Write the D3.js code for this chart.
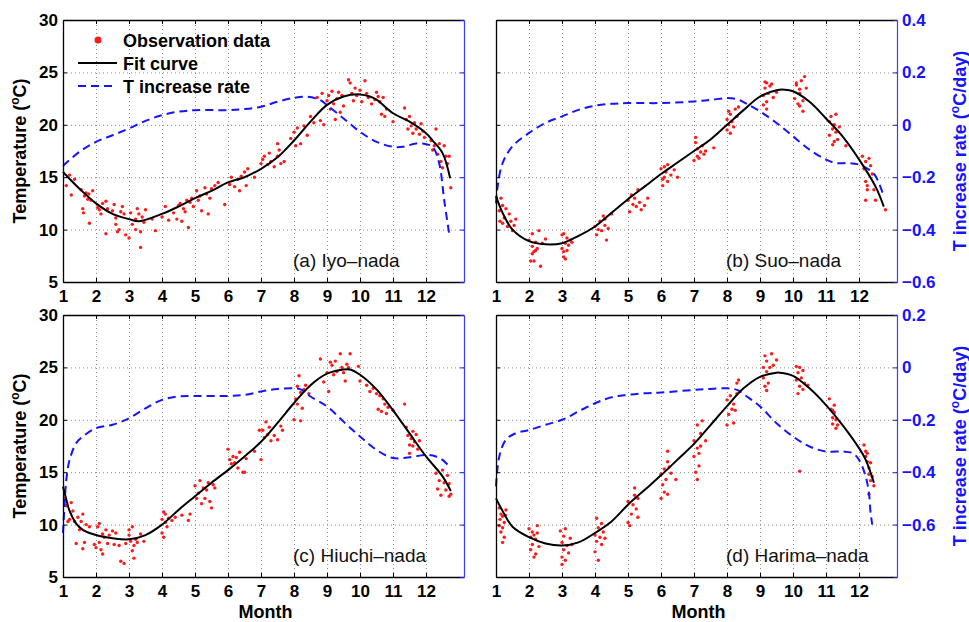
<!DOCTYPE html>
<html>
<head>
<meta charset="utf-8">
<script src="https://cdn.jsdelivr.net/npm/d3@7"></script>
<style>
  body { margin: 0; background: #fff; }
  svg text { font-family: "Liberation Sans", Arial, Helvetica, sans-serif; }
</style>
</head>
<body>
<div id="container"></div>
<script>
// month ticks and axis ticks
const months = [1, 2, 3, 4, 5, 6, 7, 8, 9, 10, 11, 12];
const tempTicks = [5, 10, 15, 20, 25, 30];
const rateTicksAB = [-0.6, -0.4, -0.2, 0, 0.2, 0.4];
const rateTicksCD = [-0.8, -0.6, -0.4, -0.2, 0, 0.2];

// (a) Iyo-nada
const fitA = [[1,15.5],[1.5,13.9],[2,12.5],[2.5,11.5],[3,11.0],[3.3,10.8],[4,11.5],[4.5,12.2],[5,13.0],[5.5,13.7],[6,14.5],[6.5,15.0],[7,15.8],[7.5,16.9],[8,18.5],[8.5,20.3],[9,21.9],[9.5,22.7],[10,22.9],[10.3,22.7],[10.5,22.4],[11,21.1],[11.5,20.3],[12,19.2],[12.2,18.5],[12.5,17.3],[12.73,14.9]];
const rateA = [[1,-0.157],[1.5,-0.103],[2,-0.065],[2.5,-0.04],[3,-0.014],[3.5,0.015],[4,0.037],[4.5,0.05],[5,0.056],[6,0.056],[6.5,0.06],[7,0.069],[7.5,0.088],[8,0.103],[8.4,0.107],[8.8,0.094],[9,0.075],[9.5,0.024],[10,-0.027],[10.5,-0.065],[11,-0.084],[11.3,-0.084],[11.7,-0.071],[12,-0.074],[12.2,-0.084],[12.4,-0.148],[12.55,-0.288],[12.7,-0.415]];
const obsA = [[1.1,14.2],[1.2,15.2],[1.25,13.3],[1.35,14.8],[1.55,13.8],[1.6,12.0],[1.62,11.6],[1.65,13.2],[1.7,13.5],[1.75,12.9],[1.78,13.4],[1.8,10.6],[1.85,12.8],[1.9,13.7],
  [2.05,12.1],[2.1,11.9],[2.15,11.5],[2.2,12.5],[2.3,9.6],[2.35,12.0],[2.3,12.7],[2.5,11.8],[2.55,12.4],[2.6,11.1],[2.65,9.8],[2.7,10.0],[2.75,11.7],[2.8,12.2],[2.85,11.5],[2.9,9.5],[2.6,10.5],
  [3.0,9.2],[3.05,11.6],[3.1,10.5],[3.2,10.0],[3.25,12.0],[3.3,11.5],[3.35,8.3],[3.35,9.8],[3.4,11.2],[3.45,10.7],[3.5,11.9],[3.2,11.0],[3.7,11.0],[3.8,9.9],[4.0,11.2],[4.2,10.9],[4.1,12.2],
  [4.35,11.6],[4.45,11.0],[4.5,12.3],[4.55,12.5],[4.6,10.8],[4.65,12.0],[4.7,11.7],[4.75,12.8],[4.8,10.2],[4.85,12.6],[4.9,13.0],[4.95,12.2],
  [5.05,13.7],[5.1,12.8],[5.15,13.2],[5.2,11.8],[5.3,14.0],[5.35,13.4],[5.4,11.5],[5.45,13.0],[5.5,13.9],[5.6,14.2],[5.7,14.5],
  [5.9,12.4],[6.05,14.3],[6.1,15.0],[6.2,14.1],[6.3,14.8],[6.35,13.7],[6.4,15.1],[6.5,15.5],[6.55,14.2],[6.6,15.8],[6.8,15.0],
  [7.0,16.3],[7.05,16.7],[7.1,17.0],[7.2,16.2],[7.25,17.3],[7.3,16.5],[7.4,16.0],[7.5,18.2],[7.5,17.0],[7.55,17.6],[7.6,16.3],[7.7,16.5],
  [7.9,18.7],[8.0,19.3],[8.05,18.0],[8.1,19.7],[8.2,18.2],[8.3,19.9],[8.4,19.0],[8.5,20.8],[8.6,20.2],
  [8.7,22.6],[8.8,20.4],[8.85,23.0],[8.9,20.0],[9.0,22.3],[9.05,22.8],[9.1,21.5],[9.15,23.2],[9.2,22.0],[9.25,20.5],[9.3,22.5],[9.35,23.1],[9.4,21.2],[9.45,22.8],[9.5,21.8],
  [9.65,24.3],[9.7,24.0],[9.75,23.0],[9.8,22.3],[9.85,23.5],[9.9,22.8],[10.0,23.3],[10.05,22.2],[10.15,24.2],[10.2,23.0],[10.25,22.6],
  [10.35,22.0],[10.45,22.4],[10.5,23.1],[10.55,22.7],[10.6,22.2],[10.65,21.0],[10.7,22.6],[10.75,20.8],[10.8,21.5],[11.0,20.3],
  [11.35,21.6],[11.4,20.5],[11.45,19.6],[11.5,20.8],[11.55,19.9],[11.6,19.2],[11.65,20.2],[11.7,19.6],[11.8,19.1],[11.85,20.1],[11.9,19.4],[11.95,18.8],
  [12.15,18.5],[12.2,17.6],[12.25,18.0],[12.3,19.6],[12.35,17.2],[12.4,18.2],[12.45,16.5],[12.5,15.9],[12.55,18.0],[12.6,17.0],[12.65,16.3],[12.7,17.0],[12.75,14.0]];

// (b) Suo-nada
const fitB = [[1,13.2],[1.2,11.6],[1.5,10.0],[2,8.9],[2.5,8.6],[3,8.7],[3.5,9.4],[4,10.3],[4.5,11.6],[5,12.9],[5.5,14.1],[6,15.3],[6.5,16.4],[7,17.5],[7.5,18.6],[8,20.0],[8.5,21.4],[9,22.7],[9.5,23.3],[9.75,23.35],[10,23.2],[10.5,22.2],[11,20.6],[11.5,18.9],[12,16.7],[12.5,14.1],[12.75,12.2]];
const rateB = [[1,-0.30],[1.05,-0.235],[1.2,-0.146],[1.5,-0.082],[2,-0.031],[2.5,0.007],[3,0.032],[3.5,0.057],[4,0.073],[4.5,0.080],[5,0.083],[6,0.083],[7,0.089],[7.5,0.095],[8,0.102],[8.3,0.098],[8.6,0.08],[9,0.051],[9.5,0.007],[10,-0.044],[10.5,-0.095],[11,-0.133],[11.3,-0.146],[11.7,-0.146],[12,-0.152],[12.3,-0.171],[12.5,-0.196],[12.75,-0.273]];
const obsB = [[1.1,11.8],[1.15,13.0],[1.2,12.3],[1.2,10.6],[1.25,11.1],[1.3,12.0],[1.35,10.3],[1.4,11.5],[1.45,10.8],[1.5,9.9],[1.55,10.4],[1.6,11.0],[1.12,10.8],
  [2.0,9.0],[2.05,7.0],[2.1,8.4],[2.1,9.6],[2.15,7.9],[2.2,8.8],[2.25,8.2],[2.3,9.9],[2.15,7.0],[2.35,6.5],[2.4,8.7],[2.5,9.1],[2.2,8.0],[2.1,7.7],
  [3.0,8.2],[3.0,9.5],[3.05,7.9],[3.05,7.4],[3.1,8.7],[3.15,9.2],[3.1,7.2],[3.15,8.0],[3.2,8.5],[3.25,9.0],[3.3,8.8],[3.05,9.6],
  [4.0,10.3],[4.05,9.5],[4.1,10.0],[4.15,10.8],[4.2,9.9],[4.25,11.3],[4.3,10.4],[4.35,9.0],[4.4,10.1],[4.5,11.5],[4.3,11.0],
  [5.0,12.8],[5.05,11.7],[5.1,13.3],[5.15,12.4],[5.2,13.0],[5.25,12.2],[5.3,13.8],[5.35,12.6],[5.4,11.9],[5.5,12.3],[5.6,13.0],
  [6.0,15.8],[6.05,14.2],[6.1,15.0],[6.1,16.0],[6.15,15.5],[6.2,14.6],[6.2,16.2],[6.3,15.2],[6.05,14.8],[6.4,15.7],[6.5,15.0],
  [7.0,16.6],[7.05,18.3],[7.1,17.0],[7.1,17.7],[7.15,16.8],[7.2,17.4],[7.25,18.0],[7.3,17.2],[7.35,17.5],[7.6,17.8],[7.05,18.8],
  [8.0,19.5],[8.0,20.5],[8.05,20.0],[8.1,19.2],[8.1,21.0],[8.15,20.3],[8.2,19.8],[8.25,21.5],[8.3,20.8],[8.35,21.7],[8.05,21.3],
  [9.1,21.9],[9.1,22.8],[9.15,23.5],[9.2,22.2],[9.2,24.0],[9.25,23.0],[9.3,23.7],[9.35,23.9],[9.2,21.5],[9.4,22.6],[9.5,23.1],[9.15,24.1],
  [10.05,22.5],[10.1,23.8],[10.15,22.0],[10.2,23.4],[10.2,21.8],[10.25,24.2],[10.3,22.3],[10.35,24.6],[10.3,21.3],[10.1,24.0],[10.4,23.5],[10.2,23.0],
  [11.1,20.3],[11.1,19.0],[11.15,20.8],[11.2,19.6],[11.25,18.4],[11.25,20.0],[11.3,21.0],[11.35,18.6],[11.2,18.1],[11.4,19.8],[11.6,18.0],[11.3,19.3],
  [12.1,17.0],[12.15,15.8],[12.2,16.5],[12.25,14.2],[12.3,16.8],[12.2,12.8],[12.25,13.8],[12.35,16.1],[12.4,15.3],[12.45,13.8],[12.5,12.8],[12.8,11.9],[12.2,14.6]];

// (c) Hiuchi-nada
const fitC = [[1,13.6],[1.1,12.4],[1.2,11.3],[1.4,10.1],[1.6,9.5],[2,9.0],[2.5,8.7],[3,8.6],[3.5,9.0],[4,10.0],[4.5,11.4],[5,12.7],[5.5,14.0],[6,15.2],[6.5,16.5],[7,17.9],[7.5,19.7],[8,21.6],[8.5,23.3],[9,24.4],[9.5,24.8],[9.7,24.8],[10,24.3],[10.5,22.9],[11,20.9],[11.5,18.7],[12,16.5],[12.5,14.6],[12.75,13.2]];
const rateC = [[1,-0.632],[1.05,-0.518],[1.1,-0.429],[1.2,-0.353],[1.4,-0.289],[1.6,-0.264],[2,-0.232],[2.5,-0.219],[3,-0.194],[3.5,-0.156],[4,-0.124],[4.5,-0.111],[5,-0.109],[6,-0.109],[6.5,-0.105],[7,-0.092],[7.5,-0.082],[8,-0.080],[8.2,-0.084],[8.5,-0.111],[9,-0.149],[9.5,-0.207],[10,-0.264],[10.5,-0.315],[11,-0.346],[11.5,-0.343],[12,-0.334],[12.3,-0.34],[12.5,-0.353],[12.75,-0.384]];
const obsC = [[1.05,12.5],[1.1,11.8],[1.15,10.3],[1.2,10.5],[1.25,12.1],[1.3,11.3],[1.35,10.3],[1.4,8.2],[1.45,10.7],[1.5,9.5],[1.55,10.3],[1.6,7.7],[1.6,11.0],[1.65,8.3],[1.7,10.0],[1.8,9.8],
  [1.95,8.1],[2.0,7.8],[2.05,9.8],[2.1,8.3],[2.1,10.1],[2.15,7.6],[2.2,9.1],[2.2,7.2],[2.25,8.8],[2.3,9.5],[2.35,8.2],[2.5,9.4],[2.55,8.1],[2.6,9.2],[2.4,9.0],
  [2.7,8.0],[2.75,6.5],[2.85,6.3],[2.9,8.2],[3.0,9.5],[3.0,9.0],[3.05,8.4],[3.1,7.5],[3.1,9.8],[3.15,8.0],[3.15,6.8],[3.2,8.6],[3.25,8.3],[3.35,9.1],[3.45,8.4],
  [4.0,9.2],[4.0,10.5],[4.05,8.8],[4.1,10.2],[4.1,11.0],[4.15,9.8],[4.2,10.6],[4.05,11.2],[4.3,10.4],[4.4,10.7],
  [4.6,10.9],[4.8,10.4],[4.85,11.0],[5.0,13.7],[5.05,12.5],[5.1,13.0],[5.15,14.2],[5.2,12.0],[5.25,13.5],[5.3,12.5],[5.35,13.3],[5.4,14.0],[5.45,12.2],[5.5,11.6],[5.55,13.8],[5.6,13.5],
  [6.0,17.2],[6.05,16.2],[6.1,15.8],[6.15,16.5],[6.2,15.9],[6.25,16.4],[6.3,15.4],[6.35,16.9],[6.45,15.0],[6.5,15.0],[6.55,16.3],[6.8,17.0],
  [7.0,16.2],[7.05,19.0],[7.1,18.3],[7.15,19.8],[7.2,18.6],[7.25,19.3],[7.3,18.0],[7.4,18.5],[7.5,18.1],[7.6,19.4],[7.65,19.0],[6.95,19.0],
  [8.0,20.0],[8.05,22.0],[8.1,23.2],[8.1,21.5],[8.15,24.2],[8.2,22.6],[8.2,19.9],[8.25,21.1],[8.3,22.9],[8.35,23.3],[8.45,22.5],
  [8.8,25.8],[8.9,23.6],[9.0,24.5],[9.05,22.7],[9.1,25.5],[9.15,25.2],[9.2,24.3],[9.25,25.6],[9.3,24.6],[9.4,26.3],[9.45,25.0],[9.5,24.5],[9.55,23.7],[9.6,25.3],[9.7,26.3],[9.65,25.0],
  [9.95,25.1],[10.0,23.7],[10.2,23.3],[10.3,22.7],[10.4,23.0],[10.5,22.5],[10.55,21.0],[10.6,22.3],[10.65,20.8],[10.7,22.0],[10.75,21.5],[10.8,20.6],[10.85,21.2],
  [11.0,20.9],[11.35,21.5],[11.4,19.3],[11.45,18.5],[11.5,17.6],[11.55,18.2],[11.6,18.9],[11.6,17.5],[11.65,17.9],[11.7,18.6],[11.75,17.2],[11.8,18.0],[11.5,16.8],
  [12.3,14.9],[12.35,13.4],[12.4,14.2],[12.45,12.8],[12.5,15.2],[12.55,14.0],[12.6,13.3],[12.65,14.7],[12.7,12.7],[12.75,12.9],[12.7,13.9]];

// (d) Harima-nada
const fitD = [[1,12.5],[1.2,11.3],[1.5,9.8],[2,8.8],[2.5,8.2],[3,8.0],[3.5,8.3],[4,9.2],[4.5,10.3],[5,11.9],[5.5,13.3],[6,14.7],[6.5,16.2],[7,17.7],[7.5,19.5],[8,21.3],[8.5,23.0],[9,24.1],[9.5,24.5],[9.6,24.5],[10,24.2],[10.5,23.0],[11,21.4],[11.5,19.5],[12,17.3],[12.2,16.2],[12.45,14.0]];
const rateD = [[1,-0.454],[1.1,-0.34],[1.3,-0.276],[1.6,-0.251],[2,-0.239],[2.5,-0.219],[3,-0.2],[3.5,-0.168],[4,-0.137],[4.5,-0.114],[5,-0.105],[5.5,-0.099],[6,-0.096],[7,-0.086],[7.5,-0.082],[8,-0.08],[8.3,-0.086],[8.6,-0.111],[9,-0.149],[9.5,-0.213],[10,-0.264],[10.5,-0.302],[11,-0.321],[11.5,-0.321],[11.8,-0.327],[12,-0.353],[12.2,-0.416],[12.3,-0.48],[12.35,-0.556],[12.4,-0.6]];
const obsD = [[1.1,11.6],[1.12,10.5],[1.15,11.0],[1.15,9.3],[1.2,10.8],[1.2,9.7],[1.25,10.2],[1.25,8.8],[1.3,11.4],[1.28,10.9],[1.2,8.3],[1.1,9.9],
  [2.0,9.6],[2.05,8.8],[2.05,7.6],[2.1,9.3],[2.1,8.1],[2.15,9.0],[2.2,7.2],[2.2,8.6],[2.25,9.9],[2.3,7.9],[2.15,6.9],[2.25,9.2],
  [2.95,9.4],[3.0,8.3],[3.0,6.9],[3.05,7.6],[3.05,8.9],[3.1,6.6],[3.1,9.6],[3.15,8.0],[3.2,7.3],[3.25,8.7],[3.3,8.1],[3.0,6.2],
  [4.0,9.0],[4.0,7.4],[4.05,8.4],[4.1,9.7],[4.1,6.6],[4.15,8.8],[4.2,10.1],[4.25,9.3],[4.3,8.7],[4.05,10.6],[4.2,8.1],
  [5.0,12.2],[5.0,10.2],[5.05,9.9],[5.1,11.0],[5.15,11.9],[5.2,12.8],[5.25,11.5],[5.3,12.5],[5.3,10.7],[5.2,13.5],
  [6.0,14.8],[6.0,12.5],[6.05,13.8],[6.1,15.3],[6.1,13.1],[6.15,14.3],[6.2,16.0],[6.2,12.9],[6.25,15.5],[6.3,14.9],[6.2,17.0],[6.45,14.3],
  [7.0,18.0],[7.0,16.5],[7.05,15.0],[7.1,17.3],[7.1,19.5],[7.15,16.8],[7.15,15.6],[7.2,18.7],[7.2,17.5],[7.25,19.9],[7.35,18.0],[7.1,14.3],
  [8.0,21.9],[8.0,19.5],[8.05,20.5],[8.1,22.3],[8.15,21.0],[8.2,19.7],[8.25,20.9],[8.3,22.5],[8.3,23.5],[8.35,23.8],[8.2,21.5],
  [9.1,24.0],[9.1,25.0],[9.15,23.2],[9.15,26.1],[9.2,24.6],[9.2,25.6],[9.25,23.5],[9.3,25.0],[9.35,26.3],[9.4,25.2],[9.2,22.8],[9.5,25.7],
  [10.1,25.1],[10.1,23.8],[10.15,24.5],[10.2,23.2],[10.2,25.0],[10.25,24.0],[10.3,22.9],[10.3,24.7],[10.35,23.5],[10.45,23.3],[10.2,15.1],[10.15,22.5],
  [11.1,22.0],[11.15,21.0],[11.2,20.2],[11.2,19.6],[11.25,20.7],[11.3,19.2],[11.3,20.0],[11.25,21.4],[11.35,19.5],[11.2,20.9],
  [12.15,17.6],[12.2,17.0],[12.2,16.5],[12.25,16.0],[12.3,15.4],[12.3,14.8],[12.35,15.9],[12.35,14.2],[12.4,14.6],[12.45,13.7],[12.3,12.9],[12.25,16.8]];

const W = 969, H = 622;
const BLUE = "#1414ff";

const svg = d3.select("#container").append("svg")
  .attr("width", W).attr("height", H)
  .style("background", "#fff");

const panels = [
  {label:"(a) Iyo\u2013nada",     fit:fitA, rate:rateA, obs:obsA, x0:63,  y0:20,  rDom:[-0.6,0.4], rTicks:rateTicksAB, leftLab:true,  rightLab:false, month:false, legend:true},
  {label:"(b) Suo\u2013nada",     fit:fitB, rate:rateB, obs:obsB, x0:496, y0:20,  rDom:[-0.6,0.4], rTicks:rateTicksAB, leftLab:false, rightLab:true,  month:false, legend:false},
  {label:"(c) Hiuchi\u2013nada",  fit:fitC, rate:rateC, obs:obsC, x0:63,  y0:315, rDom:[-0.8,0.2], rTicks:rateTicksCD, leftLab:true,  rightLab:false, month:true,  legend:false},
  {label:"(d) Harima\u2013nada",  fit:fitD, rate:rateD, obs:obsD, x0:496, y0:315, rDom:[-0.8,0.2], rTicks:rateTicksCD, leftLab:false, rightLab:true,  month:true,  legend:false}
];
const pw = 401, ph = 262;

const rateFmt = d => d === 0 ? "0" : d3.format(".1f")(d);

panels.forEach(p => {
  const g = svg.append("g").attr("transform", `translate(${p.x0},${p.y0})`);

  const x = d3.scaleLinear().domain([1, 13.15]).range([0, pw]);
  const y = d3.scaleLinear().domain([5, 30]).range([ph, 0]);
  const yr = d3.scaleLinear().domain(p.rDom).range([ph, 0]);

  // dotted grid
  g.append("g").attr("transform", `translate(0,${ph})`)
    .call(d3.axisBottom(x).tickValues(months).tickSize(-ph).tickFormat(""))
    .call(s => s.select(".domain").remove())
    .selectAll("line").attr("stroke", "#8c8c8c").attr("stroke-dasharray", "1,3");
  g.append("g")
    .call(d3.axisLeft(y).tickValues(tempTicks).tickSize(-pw).tickFormat(""))
    .call(s => s.select(".domain").remove())
    .selectAll("line").attr("stroke", "#8c8c8c").attr("stroke-dasharray", "1,3");

  // observations
  g.append("g").selectAll("circle")
    .data(p.obs)
    .join("circle")
    .attr("cx", d => x(d[0]))
    .attr("cy", d => y(d[1]))
    .attr("r", 1.7)
    .attr("fill", "#ff1a1a");

  // T increase rate
  const rateLine = d3.line().x(d => x(d[0])).y(d => yr(d[1])).curve(d3.curveCatmullRom.alpha(0.5));
  g.append("path").datum(p.rate)
    .attr("d", rateLine)
    .attr("fill", "none").attr("stroke", BLUE)
    .attr("stroke-width", 2).attr("stroke-dasharray", "8,5");

  // fit curve
  const fitLine = d3.line().x(d => x(d[0])).y(d => y(d[1])).curve(d3.curveCatmullRom.alpha(0.5));
  g.append("path").datum(p.fit)
    .attr("d", fitLine)
    .attr("fill", "none").attr("stroke", "#000").attr("stroke-width", 2);

  // bottom axis
  const xa = g.append("g").attr("transform", `translate(0,${ph})`)
    .call(d3.axisBottom(x).tickValues(months).tickSize(-4).tickSizeOuter(0).tickPadding(8));
  xa.select(".domain").attr("stroke", "#000").attr("stroke-width", 1.3);
  xa.selectAll("text").attr("font-size", 17).attr("font-weight", "bold").attr("fill", "#000");

  // top axis
  const xt = g.append("g")
    .call(d3.axisTop(x).tickValues(months).tickSize(-4).tickSizeOuter(0).tickFormat(""));
  xt.select(".domain").attr("stroke", "#000").attr("stroke-width", 1.3);

  // left axis
  const ya = g.append("g")
    .call(d3.axisLeft(y).tickValues(tempTicks).tickSize(-4).tickSizeOuter(0).tickPadding(5)
      .tickFormat(p.leftLab ? d3.format("d") : ""));
  ya.select(".domain").attr("stroke", "#000").attr("stroke-width", 1.3);
  ya.selectAll("text").attr("font-size", 17).attr("font-weight", "bold").attr("fill", "#000");

  // right axis
  const ra = g.append("g").attr("transform", `translate(${pw},0)`)
    .call(d3.axisRight(yr).tickValues(p.rTicks).tickSize(-4).tickSizeOuter(0).tickPadding(5)
      .tickFormat(d => (p.rightLab && d > -0.75) ? rateFmt(d) : ""));
  ra.select(".domain").attr("stroke", "#3d3dff").attr("stroke-width", 1.2);
  ra.selectAll("line").attr("stroke", BLUE);
  ra.selectAll("text").attr("font-size", 17).attr("font-weight", "bold").attr("fill", BLUE);

  // panel label
  g.append("text")
    .attr("x", 230).attr("y", ph - 15)
    .attr("font-size", 19).attr("fill", "#111")
    .text(p.label);

  // axis titles
  if (p.leftLab) {
    const t = g.append("text")
      .attr("transform", `translate(-37,${ph / 2}) rotate(-90)`)
      .attr("text-anchor", "middle")
      .attr("font-size", 18).attr("font-weight", "bold");
    t.append("tspan").text("Temperature (");
    t.append("tspan").attr("baseline-shift", "super").attr("font-size", 12).text("o");
    t.append("tspan").text("C)");
  }
  if (p.rightLab) {
    const t = g.append("text")
      .attr("transform", `translate(${pw + 69},${ph / 2}) rotate(-90)`)
      .attr("text-anchor", "middle")
      .attr("font-size", 18).attr("font-weight", "bold").attr("fill", BLUE);
    t.append("tspan").text("T increase rate (");
    t.append("tspan").attr("baseline-shift", "super").attr("font-size", 12).text("o");
    t.append("tspan").text("C/day)");
  }
  if (p.month) {
    g.append("text")
      .attr("x", pw / 2 + 2).attr("y", ph + 41)
      .attr("text-anchor", "middle")
      .attr("font-size", 18).attr("font-weight", "bold")
      .text("Month");
  }

  // legend
  if (p.legend) {
    const lg = g.append("g");
    lg.append("circle").attr("cx", 35).attr("cy", 20).attr("r", 3.5).attr("fill", "#ff1a1a");
    lg.append("text").attr("x", 60).attr("y", 27).attr("font-size", 18).attr("font-weight", "bold").text("Observation data");
    lg.append("line").attr("x1", 15).attr("x2", 54).attr("y1", 43).attr("y2", 43)
      .attr("stroke", "#000").attr("stroke-width", 2);
    lg.append("text").attr("x", 60).attr("y", 50).attr("font-size", 18).attr("font-weight", "bold").text("Fit curve");
    lg.append("line").attr("x1", 15).attr("x2", 54).attr("y1", 66).attr("y2", 66)
      .attr("stroke", BLUE).attr("stroke-width", 2).attr("stroke-dasharray", "8,5");
    lg.append("text").attr("x", 60).attr("y", 73).attr("font-size", 18).attr("font-weight", "bold").text("T increase rate");
  }
});
</script>
</body>
</html>
